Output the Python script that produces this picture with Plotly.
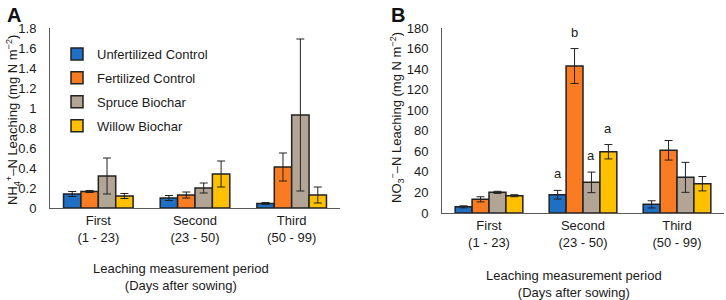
import plotly.graph_objects as go

periods = ["First<br>(1 - 23)", "Second<br>(23 - 50)", "Third<br>(50 - 99)"]
treatments = ["Unfertilized Control", "Fertilized Control", "Spruce Biochar", "Willow Biochar"]
colors = ["#1F6FC5", "#F97B22", "#B3A595", "#FFC000"]

# Panel A: NH4+-N leaching (mg N m-2)
nh4_unfert = [0.14, 0.10, 0.045]
nh4_fert = [0.165, 0.13, 0.41]
nh4_spruce = [0.32, 0.20, 0.93]
nh4_willow = [0.12, 0.34, 0.13]
nh4_unfert_err = [0.025, 0.025, 0.01]
nh4_fert_err = [0.01, 0.03, 0.14]
nh4_spruce_err = [0.18, 0.05, 0.76]
nh4_willow_err = [0.025, 0.13, 0.08]

# Panel B: NO3--N leaching (mg N m-2)
no3_unfert = [6.0, 17.8, 8.4]
no3_fert = [13.3, 143.0, 61.0]
no3_spruce = [20.1, 29.8, 34.7]
no3_willow = [16.8, 59.6, 28.5]
no3_unfert_err = [1.0, 4.2, 3.5]
no3_fert_err = [2.5, 17.0, 9.5]
no3_spruce_err = [1.0, 10.0, 14.6]
no3_willow_err = [1.0, 7.0, 7.0]

# significance letters for the Second period in panel B
sig_letters = ["a", "b", "a", "a"]

FONT = "Liberation Sans, Arial, sans-serif"
fig = go.Figure()

A_vals = [nh4_unfert, nh4_fert, nh4_spruce, nh4_willow]
A_errs = [nh4_unfert_err, nh4_fert_err, nh4_spruce_err, nh4_willow_err]
B_vals = [no3_unfert, no3_fert, no3_spruce, no3_willow]
B_errs = [no3_unfert_err, no3_fert_err, no3_spruce_err, no3_willow_err]

for i, t in enumerate(treatments):
    fig.add_trace(go.Bar(
        x=periods, y=A_vals[i], name=t, marker=dict(color=colors[i], line=dict(color="#222222", width=1.5)),
        error_y=dict(type="data", array=A_errs[i], color="#222222", thickness=1, width=4),
        xaxis="x", yaxis="y", legendgroup=t, showlegend=True))
for i, t in enumerate(treatments):
    fig.add_trace(go.Bar(
        x=periods, y=B_vals[i], name=t, marker=dict(color=colors[i], line=dict(color="#222222", width=1.5)),
        error_y=dict(type="data", array=B_errs[i], color="#222222", thickness=1, width=4),
        xaxis="x2", yaxis="y2", legendgroup=t, showlegend=False))

axis_common = dict(showline=True, linecolor="#595959", linewidth=1, showgrid=False, zeroline=False,
                   tickfont=dict(family=FONT, size=13, color="#1a1a1a"), automargin=False)

fig.update_layout(
    width=726, height=300, margin=dict(l=0, r=0, t=0, b=0),
    paper_bgcolor="white", plot_bgcolor="white",
    barmode="group", bargap=0.28, bargroupgap=0,
    font=dict(family=FONT, size=13, color="#1a1a1a"),
    xaxis=dict(domain=[50/726, 340/726], anchor="y", ticks="", **axis_common),
    yaxis=dict(domain=[92/300, 272/300], anchor="x", range=[0, 1.8], dtick=0.2, ticks="",
               ticklabelstandoff=10, **axis_common),
    xaxis2=dict(domain=[442/726, 724/726], anchor="y2", ticks="", **axis_common),
    yaxis2=dict(domain=[87/300, 272/300], anchor="x2", range=[0, 180], dtick=20, ticks="",
                ticklabelstandoff=10, **axis_common),
    legend=dict(x=57/726, y=1 - 39/300, xanchor="left", yanchor="top", bgcolor="rgba(0,0,0,0)",
                font=dict(family=FONT, size=13, color="#1a1a1a"), traceorder="grouped",
                tracegroupgap=4, itemwidth=30),
)

anns = [
    dict(text="<b>A</b>", x=5, y=2, font=dict(size=20, color="#111111")),
    dict(text="<b>B</b>", x=389, y=2, font=dict(size=20, color="#111111")),
]
for a in anns:
    fig.add_annotation(text=a["text"], x=a["x"]/726, y=1 - a["y"]/300, xref="paper", yref="paper",
                       xanchor="left", yanchor="top", showarrow=False, font=a["font"])

# y axis titles
fig.add_annotation(text="NH<sub>4</sub><sup>+</sup>–N Leaching (mg N m<sup>−2</sup>)",
                   x=13/726, y=1 - 120/300, xref="paper", yref="paper", textangle=-90,
                   xanchor="center", yanchor="middle", showarrow=False, font=dict(size=13))
fig.add_annotation(text="NO<sub>3</sub><sup>−</sup>–N Leaching (mg N m<sup>−2</sup>)",
                   x=397/726, y=1 - 118/300, xref="paper", yref="paper", textangle=-90,
                   xanchor="center", yanchor="middle", showarrow=False, font=dict(size=13))
# x axis titles
fig.add_annotation(text="Leaching measurement period<br>(Days after sowing)",
                   x=181/726, y=1 - 277/300, xref="paper", yref="paper",
                   xanchor="center", yanchor="middle", showarrow=False, font=dict(size=13))
fig.add_annotation(text="Leaching measurement period<br>(Days after sowing)",
                   x=574/726, y=1 - 284/300, xref="paper", yref="paper",
                   xanchor="center", yanchor="middle", showarrow=False, font=dict(size=13))

# significance letters above Second-period bars in panel B
n = len(treatments)
for i in range(n):
    offset = (i - (n - 1) / 2) / n * (1 - 0.28)
    fig.add_annotation(text=sig_letters[i], x=1 + offset, y=B_vals[i][1] + B_errs[i][1],
                       xref="x2", yref="y2", xanchor="center", yanchor="bottom", yshift=7,
                       showarrow=False, font=dict(size=13))

fig.write_html("out.html", config={"displayModeBar": False},
               post_script="document.body.style.margin='0';document.body.style.overflow='hidden';")
